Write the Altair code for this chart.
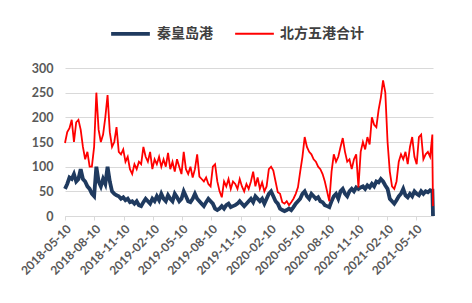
import altair as alt
import pandas as pd

# weekly sampling dates from 2018-05-10, plus the last two days of the series
weekly_start = "2018-05-10"
n_weeks = 165
tail_dates = ["2021-07-01", "2021-07-03"]

north5 = [148, 170, 178, 195, 150, 190, 195, 175, 140, 115,
          130, 100, 100, 140, 250, 175, 150, 165, 200, 245,
          170, 140, 150, 180, 130, 125, 135, 110, 120, 95,
          85, 105, 95, 110, 105, 140, 120, 110, 130, 95,
          115, 105, 120, 100, 115, 100, 128, 95, 110, 90,
          115, 100, 85, 130, 95, 85, 100, 78, 95, 125,
          80, 75, 70, 78, 65, 60, 100, 105, 70, 50,
          38, 70, 60, 75, 55, 70, 65, 55, 75, 60,
          50, 65, 55, 70, 90, 60, 78, 55, 68, 50,
          60, 95, 100, 92, 70, 48, 45, 28, 25, 30,
          22, 28, 35, 45, 58, 90, 120, 160, 140, 130,
          125, 115, 110, 100, 95, 85, 70, 50, 30, 90,
          125, 110, 120, 140, 158, 130, 110, 115, 95, 115,
          125, 58, 130, 150, 135, 160, 145, 200, 185, 180,
          215, 240, 275, 250, 150, 90, 60, 55, 70, 110,
          125, 115, 130, 105, 140, 160, 120, 105, 160, 165,
          115, 125, 130, 120, 165, 130, 20]

qhd = [55, 65, 78, 75, 85, 70, 75, 95, 75, 70,
       60, 55, 45, 40, 100, 70, 60, 75, 65, 100,
       70, 50, 45, 42, 40, 35, 38, 32, 35, 28,
       30, 25, 30, 22, 20, 28, 35, 30, 25, 35,
       30, 40, 32, 45, 35, 30, 42, 35, 30, 45,
       38, 30, 35, 50, 40, 30, 28, 35, 45, 35,
       30, 25, 20, 28, 35, 30, 25, 15, 12, 15,
       20, 15, 22, 25, 18, 20, 22, 25, 30, 25,
       20, 25, 30, 35, 28, 40, 35, 30, 35, 25,
       35, 45, 50, 40, 30, 25, 15, 12, 10, 12,
       15, 12, 18, 25, 30, 35, 45, 50, 40, 35,
       45, 40, 35, 38, 30, 28, 22, 20, 18, 30,
       40, 45, 35, 50, 55, 45, 40, 50, 55, 50,
       58, 55, 58, 60, 55, 62, 58, 65, 60, 70,
       68, 75, 70, 62, 55, 35, 30, 25, 32, 40,
       45, 55, 42, 38, 45, 40, 50, 45, 42, 50,
       45, 50, 48, 52, 50, 55, 0]

series_names = ["秦皇岛港", "北方五港合计"]
series_colors = ["#1F3A5F", "#FF0000"]
tick_dates = ["2018-05-10", "2018-08-10", "2018-11-10", "2019-02-10", "2019-05-10",
              "2019-08-10", "2019-11-10", "2020-02-10", "2020-05-10", "2020-08-10",
              "2020-11-10", "2021-02-10", "2021-05-10"]
y_ticks = [0, 50, 100, 150, 200, 250, 300]

dates = list(pd.date_range(weekly_start, periods=n_weeks, freq="7D")) + list(pd.to_datetime(tail_dates))
df = pd.concat([
    pd.DataFrame({"date": dates, "value": qhd, "series": series_names[0], "order": 0}),
    pd.DataFrame({"date": dates, "value": north5, "series": series_names[1], "order": 1}),
])

axis_font = "Lato"
label_color = "#595959"
grid_color = "#D9D9D9"

base = alt.Chart(df).encode(
    x=alt.X("date:T",
            scale=alt.Scale(domain=["2018-05-10", "2021-07-03"]),
            axis=alt.Axis(values=[pd.Timestamp(d).isoformat() for d in tick_dates],
                          format="%Y-%m-%d", labelAngle=-45, labelAlign="right",
                          labelBaseline="top", grid=False, domainColor=grid_color,
                          tickColor=grid_color, tickSize=4, labelFont=axis_font,
                          labelFontSize=12, labelFontWeight="bold", labelColor=label_color,
                          labelPadding=3, title=None, labelOverlap=False)),
    y=alt.Y("value:Q",
            scale=alt.Scale(domain=[0, 300], nice=False),
            axis=alt.Axis(values=y_ticks, grid=True, gridColor=grid_color, domain=False,
                          ticks=False, labelFont=axis_font, labelFontSize=12.5,
                          labelFontWeight="bold", labelColor=label_color, labelPadding=12,
                          title=None)),
    color=alt.Color("series:N",
                    scale=alt.Scale(domain=series_names, range=series_colors),
                    legend=alt.Legend(orient="none", legendX=44, legendY=-56,
                                      direction="horizontal", title=None,
                                      symbolType="stroke", symbolSize=1500,
                                      symbolStrokeWidth=3, labelFont="Noto Sans CJK SC",
                                      labelFontSize=14, labelFontWeight="bold",
                                      labelColor="#404040", columnPadding=18,
                                      labelOffset=5)),
    strokeWidth=alt.StrokeWidth("series:N",
                                scale=alt.Scale(domain=series_names, range=[3.8, 1.8]),
                                legend=None),
    order=alt.Order("order:Q"),
)

chart = base.mark_line(interpolate="linear").properties(
    width=368, height=148,
    autosize=alt.AutoSizeParams(type="none"),
    padding={"left": 65, "top": 68, "right": 39, "bottom": 87},
).configure_view(stroke=None)

chart.save("out.html", embed_options={"renderer": "svg", "actions": False})
